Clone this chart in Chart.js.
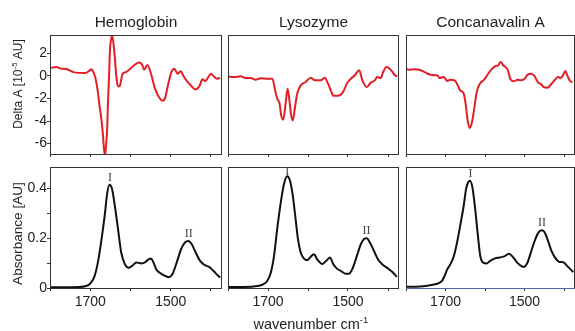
<!DOCTYPE html>
<html>
<head>
<meta charset="utf-8">
<script src="https://cdn.jsdelivr.net/npm/chart.js@4.4.1/dist/chart.umd.min.js"></script>
<style>
  body { margin: 0; background: #fff; }
  #fig { position: relative; width: 575px; height: 331px; overflow: hidden; }
  #fig canvas { position: absolute; }
</style>
</head>
<body>
<div id="fig"></div>
<script>
// ---- data: difference spectra (10^-5 AU) ----
const hbDiffWn = [1800, 1785, 1772, 1760, 1740, 1712, 1702, 1697, 1693, 1689, 1685, 1681, 1677, 1672, 1668, 1666, 1663, 1661, 1658, 1656, 1653, 1651, 1648, 1646, 1643, 1639, 1635, 1631, 1627, 1624, 1620, 1610, 1598, 1585, 1577, 1571, 1566, 1558, 1549, 1539, 1527, 1520, 1514, 1506, 1498, 1491, 1483, 1475, 1468, 1458, 1448, 1439, 1429, 1421, 1414, 1408, 1400, 1393, 1385, 1377];
const hbDiff = [0.70, 0.80, 0.65, 0.62, 0.32, 0.27, 0.47, 0.60, 0.40, 0.06, -0.53, -1.42, -2.60, -3.94, -5.40, -6.46, -6.96, -6.30, -4.80, -2.46, 0.20, 2.30, 3.30, 3.60, 3.15, 1.70, -0.10, -0.92, -0.92, -0.53, 0.15, 0.36, 0.74, 1.10, 1.19, 1.00, 0.56, 0.98, 0.20, -1.13, -2.00, -2.19, -1.96, -0.68, 0.36, 0.65, 0.20, 0.41, -0.03, -0.53, -0.92, -1.19, -0.92, -0.30, -0.44, -0.18, 0.20, -0.03, -0.24, -0.18];

const lysDiffWn = [1800, 1785, 1768, 1756, 1743, 1731, 1718, 1702, 1689, 1683, 1677, 1671, 1667, 1662, 1656, 1651, 1646, 1642, 1638, 1633, 1627, 1618, 1606, 1593, 1583, 1568, 1558, 1550, 1543, 1537, 1527, 1518, 1510, 1503, 1495, 1483, 1472, 1464, 1453, 1443, 1433, 1427, 1418, 1412, 1404, 1398, 1389, 1383, 1377];
const lysDiff = [-0.06, -0.09, -0.03, -0.18, -0.18, -0.33, -0.21, -0.24, -0.24, -1.13, -2.00, -2.46, -3.50, -3.88, -2.46, -1.13, -2.30, -3.50, -3.94, -2.90, -1.57, -0.83, -0.53, -0.15, -0.39, -0.39, -0.15, -0.68, -1.27, -1.75, -1.75, -1.66, -1.27, -0.68, -0.33, 0.06, 0.50, -0.39, -0.98, -0.59, -0.39, -0.09, -0.18, 0.36, 0.80, 0.71, 0.36, 0.06, -0.03];

const conDiffWn = [1800, 1792, 1779, 1767, 1754, 1742, 1729, 1721, 1715, 1704, 1696, 1688, 1677, 1671, 1663, 1654, 1648, 1644, 1639, 1633, 1628, 1621, 1613, 1602, 1592, 1582, 1573, 1567, 1561, 1554, 1543, 1535, 1527, 1518, 1510, 1500, 1492, 1483, 1475, 1467, 1458, 1452, 1442, 1433, 1423, 1415, 1408, 1402, 1397, 1392, 1386, 1379];
const conDiff = [0.65, 0.56, 0.59, 0.56, 0.36, 0.15, 0.06, 0.06, -0.18, -0.09, -0.44, -0.33, -0.39, -0.68, -1.27, -1.57, -2.76, -3.94, -4.62, -4.09, -3.05, -1.42, -0.68, -0.33, 0.20, 0.65, 0.89, 0.92, 1.24, 0.95, 0.56, -0.33, -0.47, -0.33, -0.39, -0.24, 0.12, 0.20, 0.00, -0.53, -0.74, -0.98, -1.04, -0.74, -0.33, -0.09, -0.18, 0.12, 0.44, 0.06, -0.39, -0.59];

// ---- data: absorbance spectra (AU) ----
const hbAbsWn = [1800, 1764, 1731, 1710, 1698, 1689, 1681, 1673, 1664, 1658, 1652, 1646, 1639, 1631, 1623, 1614, 1604, 1596, 1585, 1573, 1564, 1556, 1549, 1543, 1535, 1524, 1514, 1504, 1496, 1485, 1474, 1464, 1456, 1448, 1438, 1427, 1416, 1406, 1398, 1388, 1377];
const hbAbs = [0.003, 0.003, 0.004, 0.008, 0.022, 0.049, 0.103, 0.184, 0.292, 0.380, 0.416, 0.400, 0.332, 0.238, 0.143, 0.096, 0.081, 0.089, 0.103, 0.099, 0.103, 0.114, 0.119, 0.103, 0.073, 0.058, 0.049, 0.043, 0.055, 0.103, 0.157, 0.184, 0.189, 0.177, 0.143, 0.109, 0.093, 0.086, 0.076, 0.059, 0.042];

const lysAbsWn = [1800, 1760, 1727, 1712, 1702, 1693, 1685, 1677, 1668, 1660, 1652, 1645, 1638, 1631, 1625, 1618, 1610, 1602, 1595, 1585, 1577, 1564, 1553, 1545, 1537, 1527, 1517, 1506, 1498, 1489, 1478, 1468, 1460, 1453, 1445, 1435, 1425, 1414, 1402, 1389, 1378];
const lysAbs = [0.004, 0.004, 0.008, 0.015, 0.028, 0.061, 0.128, 0.238, 0.345, 0.419, 0.450, 0.432, 0.372, 0.277, 0.196, 0.142, 0.118, 0.112, 0.123, 0.136, 0.115, 0.097, 0.112, 0.123, 0.097, 0.077, 0.068, 0.057, 0.057, 0.077, 0.128, 0.176, 0.197, 0.200, 0.182, 0.149, 0.115, 0.095, 0.081, 0.064, 0.045];

const conAbsWn = [1800, 1775, 1750, 1729, 1717, 1708, 1702, 1696, 1688, 1679, 1671, 1663, 1654, 1648, 1642, 1638, 1632, 1625, 1618, 1612, 1604, 1596, 1588, 1575, 1563, 1550, 1540, 1529, 1518, 1508, 1502, 1493, 1483, 1473, 1465, 1457, 1450, 1442, 1432, 1423, 1412, 1402, 1392, 1383, 1377];
const conAbs = [0.005, 0.005, 0.008, 0.014, 0.020, 0.031, 0.050, 0.074, 0.095, 0.128, 0.182, 0.250, 0.331, 0.399, 0.428, 0.432, 0.405, 0.318, 0.209, 0.128, 0.101, 0.099, 0.108, 0.119, 0.123, 0.128, 0.138, 0.124, 0.101, 0.088, 0.085, 0.101, 0.149, 0.196, 0.223, 0.232, 0.226, 0.196, 0.149, 0.122, 0.105, 0.104, 0.088, 0.074, 0.064];

// ---- categories, ticks and labels ----
const proteins = ['Hemoglobin', 'Lysozyme', 'Concanavalin A'];
const bandNames = ['I', 'II'];
const hbBands = [1651, 1455];
const lysBands = [1652, 1454];
const conBands = [1637, 1456];

const xTickValues = [1800, 1700, 1600, 1500, 1400];
const xTickLabels = ['', '1700', '', '1500', ''];
const diffTickValues = [-6, -4, -2, 0, 2];
const diffTickLabels = ['-6', '-4', '-2', '0', '2'];
const absTickValues = [0, 0.1, 0.2, 0.3, 0.4];
const absTickLabels = ['0', '', '0.2', '', '0.4'];

const FONT = "'Liberation Sans', Arial, Helvetica, sans-serif";
const SERIF = "'Liberation Serif', 'Times New Roman', serif";

// frame edges of each plot, in page pixels
const colEdges = [[50, 221], [228, 398], [406, 574]];
const rowEdges = [[35, 154], [167, 288]];

function toPoints(xs, ys) {
    return xs.map((x, i) => ({ x: x, y: ys[i] }));
}

// draw a run of text pieces, some of them superscript
function drawRich(ctx, pieces, size, x, y, align) {
    const supSize = size * 0.65;
    const widths = pieces.map(p => {
        ctx.font = `${p.sup ? supSize : size}px ${FONT}`;
        return ctx.measureText(p.t).width;
    });
    const total = widths.reduce((a, b) => a + b, 0);
    let cx = align === 'center' ? x - total / 2 : x;
    pieces.forEach((p, i) => {
        ctx.font = `${p.sup ? supSize : size}px ${FONT}`;
        ctx.fillText(p.t, cx, p.sup ? y - size * 0.38 : y);
        cx += widths[i];
    });
}

const framePlugin = {
    id: 'frame',
    afterDatasetsDraw(chart, args, opts) {
        const { left, top, right, bottom } = chart.chartArea;
        const ctx = chart.ctx;
        ctx.save();
        ctx.lineWidth = 1;
        ctx.strokeStyle = '#333';
        ctx.strokeRect(left + 0.5, top + 0.5, right - left, bottom - top);
        if (opts.bottomColor) {
            ctx.strokeStyle = opts.bottomColor;
            ctx.beginPath();
            ctx.moveTo(left, bottom + 0.5);
            ctx.lineTo(right + 1, bottom + 0.5);
            ctx.stroke();
        }
        ctx.restore();
    }
};

const textPlugin = {
    id: 'panelText',
    afterDraw(chart, args, opts) {
        const ctx = chart.ctx;
        const a = chart.chartArea;
        ctx.save();
        ctx.fillStyle = '#222';
        ctx.textBaseline = 'alphabetic';
        ctx.textAlign = 'left';

        if (opts.title) {
            ctx.font = `15.5px ${FONT}`;
            ctx.textAlign = 'center';
            ctx.fillText(opts.title, (a.left + a.right) / 2 + 0.5, a.top - 8);
            ctx.textAlign = 'left';
        }
        if (opts.yTitle) {
            const t = opts.yTitle;
            ctx.save();
            ctx.translate(a.left + t.dx, a.top + t.dy);
            ctx.rotate(-Math.PI / 2);
            drawRich(ctx, t.pieces, t.size, 0, 0, 'center');
            ctx.restore();
        }
        if (opts.xTitle) {
            const t = opts.xTitle;
            drawRich(ctx, t.pieces, t.size, (a.left + a.right) / 2 + t.dx, a.bottom + t.dy, 'center');
        }
        if (opts.bands) {
            const xs = chart.scales.x, ys = chart.scales.y;
            const data = chart.data.datasets[0].data;
            ctx.font = `12px ${SERIF}`;
            ctx.fillStyle = '#444';
            ctx.textAlign = 'center';
            opts.bands.forEach(b => {
                const near = data.filter(p => Math.abs(p.x - b.wn) <= 8);
                const top = Math.max(...near.map(p => p.y));
                let y = ys.getPixelForValue(top) - 4;
                y = Math.max(y, a.top + 8);
                ctx.fillText(b.text, xs.getPixelForValue(b.wn), y);
            });
        }
        ctx.restore();
    }
};

function makePanel(cfg) {
    const [L, R] = colEdges[cfg.col];
    const [T, B] = rowEdges[cfg.row];
    const padL = cfg.col === 0 ? 50 : 3;
    const padR = cfg.col === 2 ? 1 : 3;
    const padT = cfg.row === 0 ? 35 : 10;
    const padB = cfg.row === 0 ? 10 : 331 - B;

    const canvas = document.createElement('canvas');
    canvas.width = R - L + padL + padR;
    canvas.height = B - T + padT + padB;
    canvas.style.left = (L - padL) + 'px';
    canvas.style.top = (T - padT) + 'px';
    document.getElementById('fig').appendChild(canvas);

    const isLeft = cfg.col === 0;
    const isBottom = cfg.row === 1;

    return new Chart(canvas.getContext('2d'), {
        type: 'line',
        data: {
            datasets: [{
                data: cfg.points,
                borderColor: cfg.color,
                borderWidth: 2,
                pointRadius: 0,
                fill: false,
                cubicInterpolationMode: 'monotone'
            }]
        },
        options: {
            responsive: false,
            animation: false,
            events: [],
            layout: { padding: { left: 0, top: padT, right: padR, bottom: 0 } },
            scales: {
                x: {
                    type: 'linear',
                    reverse: true,
                    min: 1375,
                    max: 1800,
                    afterBuildTicks: s => { s.ticks = xTickValues.map(v => ({ value: v })); },
                    afterFit: s => { s.height = padB; },
                    border: { display: false },
                    grid: { display: true, drawOnChartArea: false, drawTicks: true, tickLength: 3, color: '#333' },
                    ticks: {
                        display: isBottom,
                        autoSkip: false,
                        maxRotation: 0,
                        padding: 3,
                        color: '#222',
                        font: { family: FONT, size: 14 },
                        callback: (v, i) => xTickLabels[i]
                    }
                },
                y: {
                    type: 'linear',
                    min: cfg.yMin,
                    max: cfg.yMax,
                    afterBuildTicks: s => { s.ticks = cfg.yTicks.map(v => ({ value: v })); },
                    afterFit: s => { s.width = padL; },
                    border: { display: false },
                    grid: { display: isLeft, drawOnChartArea: false, drawTicks: true, tickLength: 3, color: '#333' },
                    ticks: {
                        display: isLeft,
                        padding: 0,
                        color: '#222',
                        font: { family: FONT, size: 14 },
                        callback: (v, i) => cfg.yLabels[i]
                    }
                }
            },
            plugins: {
                legend: { display: false },
                tooltip: { enabled: false },
                frame: { bottomColor: cfg.bottomColor || null },
                panelText: {
                    title: cfg.title || null,
                    yTitle: cfg.yTitle || null,
                    xTitle: cfg.xTitle || null,
                    bands: cfg.bands || null
                }
            }
        },
        plugins: [framePlugin, textPlugin]
    });
}

const RED = '#e41e26';
const BLACK = '#111';
const diffRange = { yMin: -6.93, yMax: 3.64, yTicks: diffTickValues, yLabels: diffTickLabels };
const absRange = { yMin: 0, yMax: 0.487, yTicks: absTickValues, yLabels: absTickLabels };
const bandsOf = wns => wns.map((wn, i) => ({ text: bandNames[i], wn: wn }));

// top row: difference spectra
makePanel({ col: 0, row: 0, color: RED, points: toPoints(hbDiffWn, hbDiff), title: proteins[0], ...diffRange,
    yTitle: { pieces: [{ t: 'Delta A [10' }, { t: '-5', sup: true }, { t: ' AU]' }], size: 12, dx: -28.5, dy: 49 } });
makePanel({ col: 1, row: 0, color: RED, points: toPoints(lysDiffWn, lysDiff), title: proteins[1], ...diffRange });
makePanel({ col: 2, row: 0, color: RED, points: toPoints(conDiffWn, conDiff), title: proteins[2], ...diffRange });

// bottom row: absorbance spectra
makePanel({ col: 0, row: 1, color: BLACK, points: toPoints(hbAbsWn, hbAbs), ...absRange, bands: bandsOf(hbBands),
    yTitle: { pieces: [{ t: 'Absorbance [AU]' }], size: 13.6, dx: -28.5, dy: 66.5 } });
makePanel({ col: 1, row: 1, color: BLACK, points: toPoints(lysAbsWn, lysAbs), ...absRange, bands: bandsOf(lysBands),
    xTitle: { pieces: [{ t: 'wavenumber cm' }, { t: '-1', sup: true }], size: 14.5, dx: -2.2, dy: 41 } });
makePanel({ col: 2, row: 1, color: BLACK, points: toPoints(conAbsWn, conAbs), ...absRange, bands: bandsOf(conBands),
    bottomColor: '#5563a8' });
</script>
</body>
</html>
